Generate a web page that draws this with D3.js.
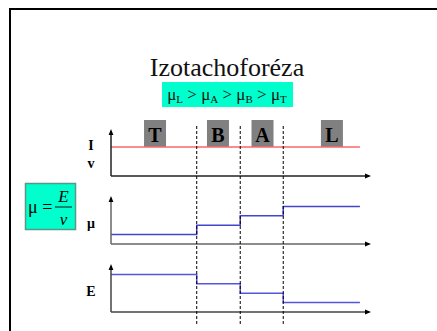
<!DOCTYPE html>
<html>
<head>
<meta charset="utf-8">
<script src="https://cdn.jsdelivr.net/npm/d3@7"></script>
<style>
  body { margin: 0; background: #fff; }
</style>
</head>
<body>
<script>
var width = 437,
  height = 331;

// zones and values (axis units 0..100 horizontally, 0..10 vertically)
var zones = ["T", "B", "A", "L"];
var zoneCenters = [17, 41.3, 58.5, 85.3];
var boundaries = [33.1, 49.9, 66.5];
var lineEnd = 96.1;
var currentLevel = [6.3, 6.3, 6.3, 6.3];
var mobility = [2, 4, 6, 8];
var field = [8, 6, 4, 2];
var panelLabels = [["I", "v"], ["\u03bc"], ["E"]];

var svg = d3.select("body").append("svg")
  .attr("width", width)
  .attr("height", height)
  .style("font-family", "'Liberation Serif', 'Times New Roman', 'DejaVu Serif', serif");

// slide frame
svg.append("path")
  .attr("d", "M10,331 V9 H437")
  .attr("fill", "none")
  .attr("stroke", "#000")
  .attr("stroke-width", 2);

// title
svg.append("text")
  .attr("x", 227).attr("y", 76)
  .attr("text-anchor", "middle")
  .style("font-size", "26px")
  .attr("fill", "#111")
  .text("Izotachoforéza");

svg.append("rect")
  .attr("x", 162).attr("y", 82)
  .attr("width", 131).attr("height", 25)
  .attr("fill", "#00ffcc");

var ineq = svg.append("text")
  .attr("x", 227).attr("y", 100)
  .attr("text-anchor", "middle")
  .style("font-size", "17px")
  .attr("fill", "#111");
var order = ["L", "A", "B", "T"];
order.forEach(function (s, i) {
  ineq.append("tspan").text("\u03bc");
  ineq.append("tspan").attr("dy", 3).style("font-size", "11px").text(s);
  ineq.append("tspan").attr("dy", -3).text(i < order.length - 1 ? " > " : "");
});

var x = d3.scaleLinear().domain([0, 100]).range([111, 370]);

var panels = [
  { top: 130, bottom: 176, values: currentLevel, color: "#ff6666", axis: "#222" },
  { top: 197, bottom: 244, values: mobility, color: "#4444cc", axis: "#666" },
  { top: 265, bottom: 312, values: field, color: "#5555dd", axis: "#444" }
];

svg.append("defs").append("marker")
  .attr("id", "arrow")
  .attr("viewBox", "0 0 10 10")
  .attr("refX", 5).attr("refY", 5)
  .attr("markerWidth", 4).attr("markerHeight", 4)
  .attr("orient", "auto")
  .append("path")
  .attr("d", "M0,1 L10,5 L0,9 z")
  .attr("fill", "#000");

// zone label boxes
zones.forEach(function (z, i) {
  var cx = x(zoneCenters[i]);
  svg.append("rect")
    .attr("x", cx - 11).attr("y", 120)
    .attr("width", 22).attr("height", 27)
    .attr("fill", "#808080");
  svg.append("text")
    .attr("x", cx).attr("y", 142)
    .attr("text-anchor", "middle")
    .style("font-size", "20px")
    .style("font-weight", "bold")
    .attr("fill", "#000")
    .text(z);
});

var steps = [0].concat(boundaries).concat([lineEnd]);

panels.forEach(function (p, k) {
  var y = d3.scaleLinear().domain([0, 10]).range([p.bottom, p.top]);
  var g = svg.append("g");

  // step line
  var pts = [];
  p.values.forEach(function (v, i) {
    pts.push([steps[i], v]);
    pts.push([steps[i + 1], v]);
  });
  g.append("path")
    .datum(pts)
    .attr("fill", "none")
    .attr("stroke", p.color)
    .attr("stroke-width", 1.5)
    .attr("d", d3.line().x(function (d) { return x(d[0]); }).y(function (d) { return y(d[1]); }));

  // axes
  g.append("line")
    .attr("x1", x(0)).attr("y1", y(0))
    .attr("x2", x(0)).attr("y2", y(10) + 2)
    .attr("stroke", p.axis).attr("stroke-width", 1.5)
    .attr("marker-end", "url(#arrow)");
  g.append("line")
    .attr("x1", x(0)).attr("y1", y(0))
    .attr("x2", x(100) - 2).attr("y2", y(0))
    .attr("stroke", p.axis).attr("stroke-width", 1.5)
    .attr("marker-end", "url(#arrow)");

  // side label
  var labs = panelLabels[k];
  labs.forEach(function (l, j) {
    g.append("text")
      .attr("x", 91)
      .attr("y", labs.length > 1 ? 150 + j * 18 : (p.top + p.bottom) / 2 + 7)
      .attr("text-anchor", "middle")
      .style("font-size", "14px")
      .style("font-weight", "bold")
      .text(l);
  });
});

// dashed zone boundaries
svg.selectAll(".bound")
  .data(boundaries)
  .enter().append("line")
  .attr("class", "bound")
  .attr("x1", function (d) { return x(d); })
  .attr("x2", function (d) { return x(d); })
  .attr("y1", 126).attr("y2", 324)
  .attr("stroke", "#000")
  .attr("stroke-width", 1)
  .attr("stroke-dasharray", "3,2");

// formula box
svg.append("rect")
  .attr("x", 25.5).attr("y", 183.5)
  .attr("width", 50).attr("height", 46)
  .attr("fill", "#00ffcc")
  .attr("stroke", "#559988")
  .attr("stroke-width", 1.5);
svg.append("text")
  .attr("x", 28).attr("y", 213)
  .style("font-size", "18px")
  .text("\u03bc =");
svg.append("line")
  .attr("x1", 55).attr("x2", 72)
  .attr("y1", 207).attr("y2", 207)
  .attr("stroke", "#111").attr("stroke-width", 1);
svg.append("text")
  .attr("x", 63.5).attr("y", 202)
  .attr("text-anchor", "middle")
  .style("font-size", "17px")
  .style("font-style", "italic")
  .text("E");
svg.append("text")
  .attr("x", 63.5).attr("y", 225)
  .attr("text-anchor", "middle")
  .style("font-size", "17px")
  .style("font-style", "italic")
  .text("v");
</script>
</body>
</html>
